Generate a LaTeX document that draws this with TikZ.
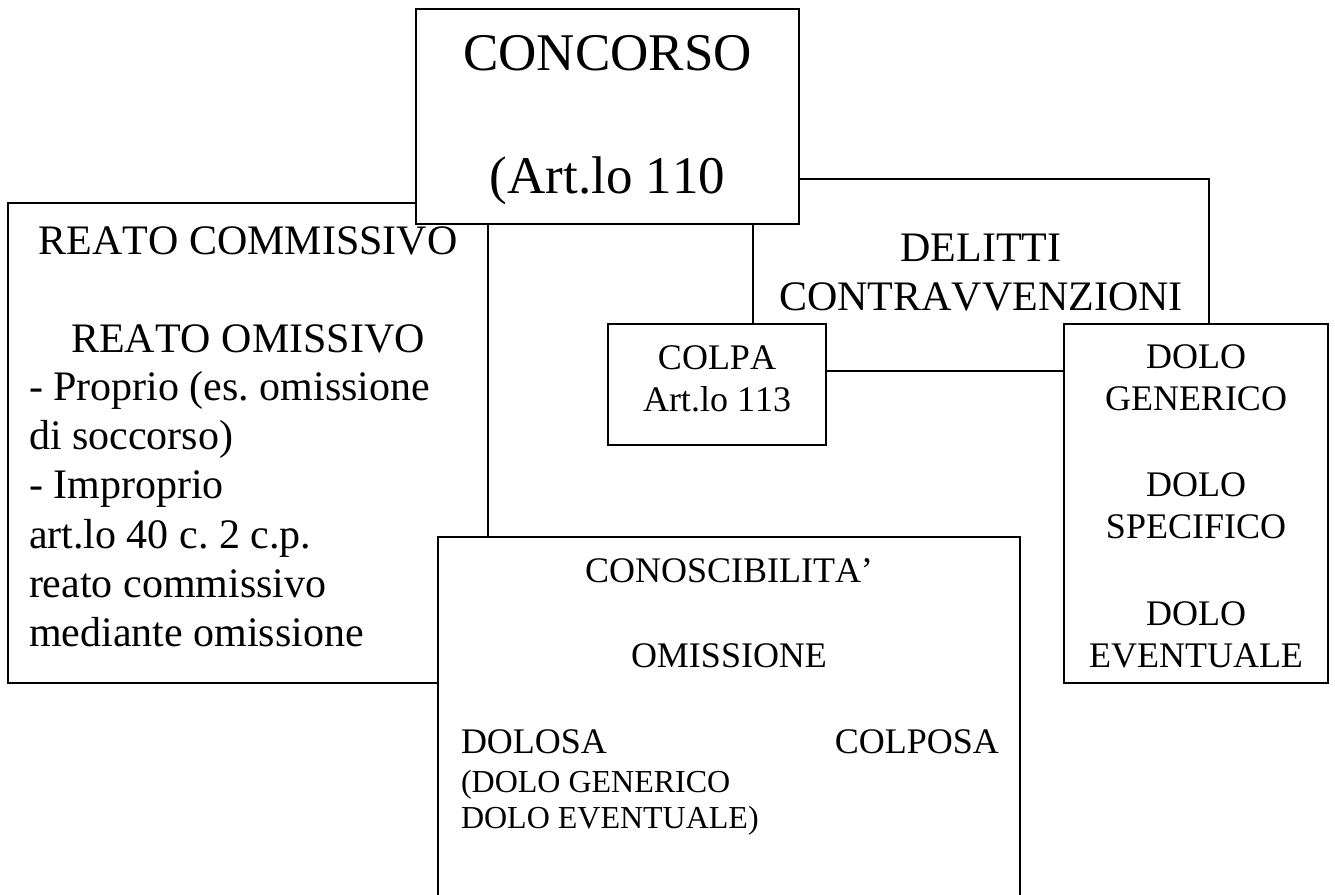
\documentclass[tikz,border=0pt]{standalone}
\usepackage{fontspec}
\setmainfont{Liberation Serif}[Kerning=Off]
\frenchspacing
\begin{document}
\begin{tikzpicture}[x=1pt,y=-1pt,
  box/.style={draw, line width=1.7pt, fill=white, inner sep=0pt, outer sep=0pt, rectangle},
  txt/.style={inner sep=0pt, outer sep=0pt},
  fA/.style={txt, font=\fontsize{53}{61}\selectfont},
  fB/.style={txt, font=\fontsize{42}{49}\selectfont},
  fC/.style={txt, font=\fontsize{36}{42}\selectfont},
  fD/.style={txt, font=\fontsize{32}{37}\selectfont}]
\useasboundingbox (0,0) rectangle (1335,894);
\clip (0,0) rectangle (1335,894);
\fill[white] (0,0) rectangle (1335,894);

% REATO box (behind)
\node[box, minimum width=480pt, minimum height=480pt] (reato) at (248,443) {};
\node[fB, anchor=base] (rc) at (248,254) {REATO COMMISSIVO};
\node[fB, anchor=base] (ro) at (248,352) {REATO OMISSIVO};
\node[fB, anchor=base west] (l1) at (29,400) {- Proprio (es. omissione};
\node[fB, anchor=base west] (l2) at (29,449) {di soccorso)};
\node[fB, anchor=base west] (l3) at (29,498) {- Improprio};
\node[fB, anchor=base west] (l4) at (29,548) {art.lo 40 c. 2 c.p.};
\node[fB, anchor=base west] (l5) at (29,597) {reato commissivo};
\node[fB, anchor=base west] (l6) at (29,646) {mediante omissione};

% DELITTI box (behind)
\node[box, minimum width=456pt, minimum height=192pt] (delitti) at (981,275) {};
\node[fB, anchor=base] (d1) at (981,261) {DELITTI};
\node[fB, anchor=base] (d2) at (981,310) {CONTRAVVENZIONI};

% CONCORSO box
\node[box, minimum width=383pt, minimum height=215pt] (concorso) at (607.5,116.5) {};
\node[fA, anchor=base] (c1) at (607.5,70) {CONCORSO};
\node[fA, anchor=base] (c2) at (607.5,193) {(Art.lo 110};

% COLPA box
\node[box, minimum width=218pt, minimum height=121pt] (colpa) at (717,384.5) {};
\node[fC, anchor=base] (p1) at (717,369.5) {COLPA};
\node[fC, anchor=base] (p2) at (717,411.5) {Art.lo 113};

% DOLO box
\node[box, minimum width=264pt, minimum height=359pt] (dolo) at (1196,503.5) {};
\node[fC, anchor=base] (o1) at (1196,368) {DOLO};
\node[fC, anchor=base] (o2) at (1196,410.5) {GENERICO};
\node[fC, anchor=base] (o3) at (1196,496.5) {DOLO};
\node[fC, anchor=base] (o4) at (1196,538.5) {SPECIFICO};
\node[fC, anchor=base] (o5) at (1196,625) {DOLO};
\node[fC, anchor=base] (o6) at (1196,667.5) {EVENTUALE};

% CONOSCIBILITA' box (runs off the bottom)
\node[box, minimum width=582pt, minimum height=426pt] (conosc) at (729,750) {};
\node[fC, anchor=base] (k1) at (729,582) {CONOSCIBILITA’};
\node[fC, anchor=base] (k2) at (729,667) {OMISSIONE};
\node[fC, anchor=base west] (k3) at (461,753) {DOLOSA};
\node[fC, anchor=base east] (k4) at (999,753) {COLPOSA};
\node[fD, anchor=base west] (k5) at (461,792) {(DOLO GENERICO};
\node[fD, anchor=base west] (k6) at (461,828) {DOLO EVENTUALE)};
\end{tikzpicture}
\end{document}
